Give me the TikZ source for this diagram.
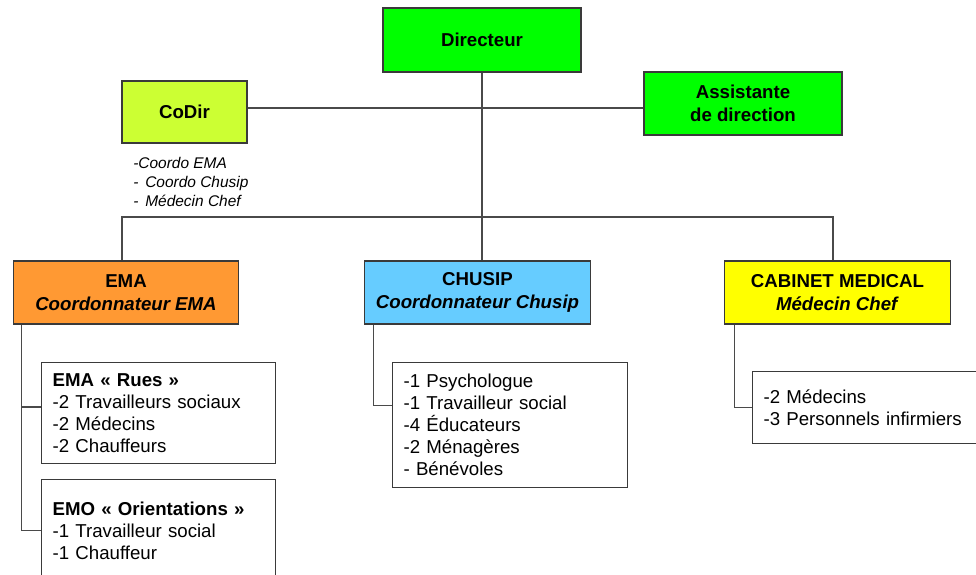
\documentclass[tikz,border=0pt]{standalone}
\usepackage{fontspec}
\setmainfont{Liberation Sans}
\usepackage{tikz}
\usetikzlibrary{positioning,calc}
\definecolor{frame}{HTML}{3A3A3A}
\definecolor{wire}{HTML}{4A4A4A}
\definecolor{dirgreen}{HTML}{00FF00}
\definecolor{codirlime}{HTML}{CCFF33}
\definecolor{emaorange}{HTML}{FF9933}
\definecolor{chusipblue}{HTML}{66CCFF}
\definecolor{cabyellow}{HTML}{FFFF00}
\tikzset{wire/.style={draw=wire,line width=0.8pt},
  unit/.style={draw=frame,line width=0.9pt,align=center,inner sep=0pt,font=\fontsize{14}{17.5}\selectfont\bfseries},
  service/.style={unit,minimum width=169pt,minimum height=47.25pt},
  staff/.style={draw=frame,line width=0.9pt,fill=white,anchor=north west,align=left,inner sep=8.25pt,font=\fontsize{14}{16.5}\selectfont},
  note/.style={anchor=north west,align=left,inner sep=0pt,font=\fontsize{11.6}{14.25}\selectfont\itshape}}

\begin{document}
\begin{tikzpicture}[x=0.75pt,y=-0.75pt]
\useasboundingbox (0,0) rectangle (976,575);
\clip (0,0) rectangle (976,575);
% direction
\node[unit,fill=dirgreen,minimum width=148.5pt,minimum height=48pt] (dir) at (482,40) {Directeur};
\node[unit,fill=codirlime,minimum width=93.75pt,minimum height=46.5pt] (codir) at (184.5,112) {CoDir};
\node[unit,fill=dirgreen,minimum width=148.5pt,minimum height=47.25pt] (asst) at (743,103.5) {Assistante\\de direction};
\node[note] (codirnote) at (133,157) {-Coordo EMA\\- \,Coordo Chusip\\- \,Médecin Chef};
% services
\node[service,fill=emaorange] (ema) at (126,292.5) {EMA\\\textit{Coordonnateur EMA}};
\node[service,fill=chusipblue] (chusip) at (477.5,292.5) {CHUSIP\\\textit{Coordonnateur Chusip}};
\node[service,fill=cabyellow] (cab) at (837.5,292.5) {CABINET MEDICAL\\\textit{Médecin Chef}};
% equipes
\node[staff,text width=159pt,minimum height=74.25pt] (rues) at (41,362) {\textbf{EMA « Rues »}\\-2 Travailleurs sociaux\\-2 Médecins\\-2 Chauffeurs};
\node[staff,text width=159pt,minimum height=76.5pt] (orient) at (41,479) {\textbf{EMO « Orientations »}\\-1 Travailleur social\\-1 Chauffeur};
\node[staff,text width=159.75pt,minimum height=93.75pt] (chusipstaff) at (392,362) {-1 Psychologue\\-1 Travailleur social\\-4 Éducateurs\\-2 Ménagères\\- Bénévoles};
\node[staff,text width=190pt,minimum height=54pt] (cabstaff) at (752,371) {-2 Médecins\\-3 Personnels infirmiers};
% liens
\coordinate (link) at (482,108);
\coordinate (bus) at (482,217);
\draw[wire] (codir.east |- link) -- (asst.west |- link);
\draw[wire] (dir.south) -- (bus |- chusip.north);
\draw[wire] ([xshift=-3pt]ema.north) |- (bus) -| ([xshift=-3.4pt]cab.north);
\coordinate (emaL) at ([xshift=6.75pt]ema.south west);
\coordinate (chusipL) at ([xshift=6.75pt]chusip.south west);
\coordinate (cabL) at ([xshift=7.5pt]cab.south west);
\draw[wire] (emaL) |- ($(rues.north west)!0.44!(rues.south west)$);
\draw[wire] (emaL) |- (orient.west);
\draw[wire] (chusipL) |- ($(chusipstaff.north west)!0.345!(chusipstaff.south west)$);
\draw[wire] (cabL) |- (cabstaff.west);
\end{tikzpicture}
\end{document}
